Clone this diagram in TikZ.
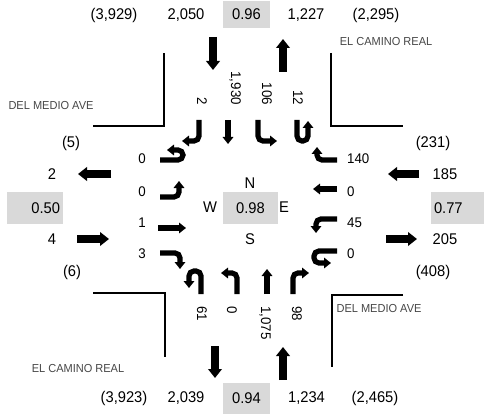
\documentclass[tikz,border=0pt]{standalone}
\usepackage{fontspec}
\setmainfont{Liberation Sans}[FakeStretch=0.95]
\usetikzlibrary{arrows.meta}

\begin{document}
\begin{tikzpicture}[
        x=1pt, y=-1pt,
        vol/.style    = {inner sep=0pt, font=\fontsize{15.5}{17}\selectfont},
        mvol/.style   = {inner sep=0pt, font=\fontsize{14}{16}\selectfont},
        vc/.style     = {fill=black!15, inner sep=0pt, minimum height=27pt, font=\fontsize{15.5}{17}\selectfont},
        street/.style = {inner sep=0pt, text=black!72, font=\fontsize{11.6}{13}\selectfont},
        curb/.style   = {line width=1.6pt},
        appr/.style   = {line width=7.5pt, -{Triangle[width=13.5pt,length=9pt]}},
        lane/.style   = {line width=5.2pt, rounded corners=5pt, -{Triangle[width=10.5pt,length=7pt]}},
    ]
    \useasboundingbox (0,0) rectangle (484,414);

    %---- curbs ----
    \draw[curb] (93,126) -- (164,126) -- (164,53);
    \draw[curb] (331,53) -- (331,126) -- (403,126);
    \draw[curb] (93,293) -- (165,293) -- (165,357);
    \draw[curb] (403,295) -- (332,295) -- (332,367);

    \node[street] (ecrn) at (386,42)  {EL CAMINO REAL};
    \node[street] (dmaw) at (51,106)  {DEL MEDIO AVE};
    \node[street] (dmae) at (379,309) {DEL MEDIO AVE};
    \node[street] (ecrs) at (78,369)  {EL CAMINO REAL};

    %---- north leg ----
    \node[vol] (nprojin)  at (114,15) {(3,929)};
    \node[vol] (nin)      at (186,15) {2,050};
    \node[vc, minimum width=47pt] (nvc) at (246.5,14.5) {0.96};
    \node[vol] (nout)     at (306,15) {1,227};
    \node[vol] (nprojout) at (376,15) {(2,295)};
    \draw[appr] (213,37) -- (213,70);
    \draw[appr] (283,72) -- (283,39);

    \node[mvol, rotate=-90, anchor=east] (nrt) at (202,105) {2};
    \node[mvol, rotate=-90, anchor=east] (nth) at (235,105) {1,930};
    \node[mvol, rotate=-90, anchor=east] (nlt) at (267,105) {106};
    \node[mvol, rotate=-90, anchor=east] (nut) at (298,105) {12};
    \draw[lane] (199,120) -- (199,141) -- (182,141);
    \draw[lane] (228,120) -- (228,144);
    \draw[lane] (258,120) -- (258,141) -- (277,141);
    \draw[lane] (297,120) -- (297,141) -- (308,141) -- (308,121);

    %---- south leg ----
    \node[vol] (sprojin)  at (124,398) {(3,923)};
    \node[vol] (sout)     at (186,398) {2,039};
    \node[vc, minimum width=47pt, minimum height=31pt] (svc) at (246.5,398.5) {0.94};
    \node[vol] (sin)      at (306.5,398) {1,234};
    \node[vol] (sprojout) at (375,398) {(2,465)};
    \draw[appr] (215,346) -- (215,378);
    \draw[appr] (283,380) -- (283,347);

    \node[mvol, rotate=-90, anchor=west] (sut) at (202,306) {61};
    \node[mvol, rotate=-90, anchor=west] (slt) at (232,306) {0};
    \node[mvol, rotate=-90, anchor=west] (sth) at (265,306) {1,075};
    \node[mvol, rotate=-90, anchor=west] (srt) at (297,306) {98};
    \draw[lane] (201,294) -- (201,271) -- (189,271) -- (189,288);
    \draw[lane] (237,294) -- (237,273) -- (221,273);
    \draw[lane] (267,294) -- (267,269);
    \draw[lane] (293,294) -- (293,273) -- (309,273);

    %---- west leg ----
    \node[vol] (wprojout) at (71,143) {(5)};
    \node[vol] (wout)     at (52,174) {2};
    \node[vc, minimum width=56pt, minimum height=32pt, text width=50pt, inner xsep=3pt, align=right] (wvc) at (35,208) {0.50};
    \node[vol] (win)      at (52,239) {4};
    \node[vol] (wprojin)  at (72,272) {(6)};
    \draw[appr] (111,174) -- (78,174);
    \draw[appr] (77,239) -- (109,239);

    \node[mvol] (wut) at (142,159) {0};
    \node[mvol] (wlt) at (142,192) {0};
    \node[mvol] (wth) at (142,223) {1};
    \node[mvol] (wrt) at (142,254) {3};
    \draw[lane] (160,160) -- (183,160) -- (183,150) -- (167,150);
    \draw[lane] (160,197) -- (179,197) -- (179,181);
    \draw[lane] (158,228) -- (186,228);
    \draw[lane] (160,253) -- (180,253) -- (180,269);

    %---- east leg ----
    \node[vol] (eprojin)  at (433,143) {(231)};
    \node[vol] (ein)      at (445,174) {185};
    \node[vc, minimum width=53pt, minimum height=32pt, text width=47pt, inner xsep=3pt, align=left] (evc) at (457.5,208) {0.77};
    \node[vol] (eout)     at (445,239) {205};
    \node[vol] (eprojout) at (433,272) {(408)};
    \draw[appr] (419,174) -- (388,174);
    \draw[appr] (386,239) -- (417,239);

    \node[mvol, anchor=west] (ert) at (347,159) {140};
    \node[mvol, anchor=west] (eth) at (347,192) {0};
    \node[mvol, anchor=west] (elt) at (347,223) {45};
    \node[mvol, anchor=west] (eut) at (347,254) {0};
    \draw[lane] (337,160) -- (317,160) -- (317,147);
    \draw[lane] (337,189) -- (313,189);
    \draw[lane] (337,219) -- (316,219) -- (316,233);
    \draw[lane] (337,251) -- (314,251) -- (314,263) -- (331,263);

    %---- intersection ----
    \node[vc, minimum width=55pt, minimum height=32pt] (icu) at (250.5,208) {0.98};
    \node[vol] (north) at (250,183) {N};
    \node[vol] (south) at (250,239) {S};
    \node[vol] (west)  at (210,207) {W};
    \node[vol] (east)  at (284,207) {E};
\end{tikzpicture}
\end{document}
